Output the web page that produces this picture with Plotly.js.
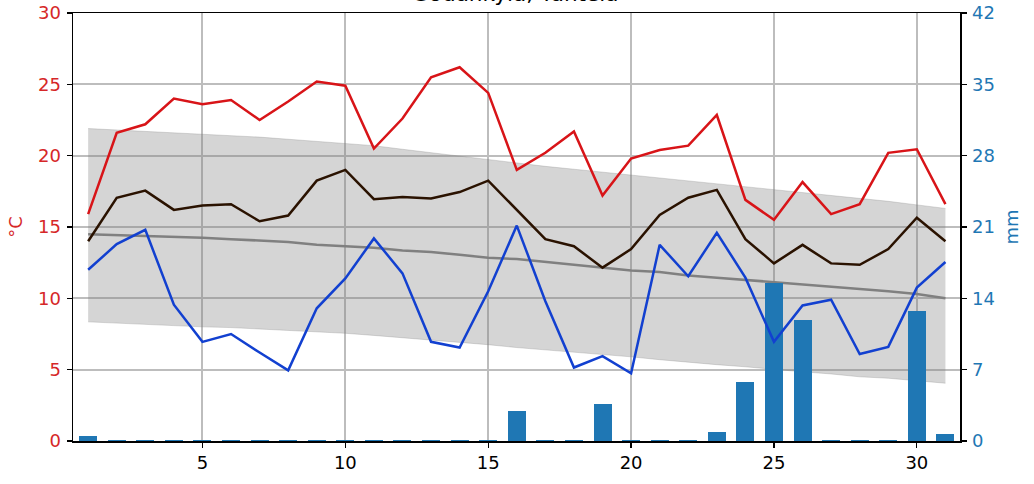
<!DOCTYPE html>
<html>
<head>
<meta charset="utf-8">
<script src="https://cdn.plot.ly/plotly-3.0.1.min.js"></script>
<style>html,body{margin:0;padding:0;background:#fff;}#chart{width:1034px;height:484px;}</style>
</head>
<body>
<div id="chart"></div>
<script>
const days = Array.from({length: 31}, (_, i) => i + 1);
const tMax = [15.9,21.6,22.2,24.0,23.6,23.9,22.5,23.8,25.2,24.9,20.5,22.6,25.5,26.2,24.4,19.0,20.2,21.7,17.2,19.8,20.4,20.7,22.85,16.9,15.5,18.15,15.9,16.6,20.2,20.45,16.6];
const tMean = [14.0,17.05,17.55,16.2,16.5,16.6,15.4,15.8,18.25,19.0,16.95,17.1,17.0,17.45,18.25,16.2,14.15,13.65,12.15,13.45,15.85,17.05,17.6,14.15,12.45,13.75,12.45,12.35,13.45,15.65,14.0];
const tMin = [12.0,13.8,14.8,9.55,6.95,7.5,6.2,4.95,9.3,11.4,14.2,11.75,6.95,6.55,10.5,15.1,9.8,5.15,5.95,4.75,13.75,11.55,14.6,11.45,6.95,9.5,9.9,6.1,6.6,10.75,12.55];
const normMean = [14.5,14.45,14.4,14.3,14.25,14.15,14.05,13.95,13.75,13.65,13.55,13.35,13.25,13.05,12.85,12.75,12.55,12.35,12.15,11.95,11.85,11.6,11.45,11.3,11.15,11.0,10.8,10.7,10.5,10.3,10.0];
const normHigh = [21.9,21.8,21.7,21.6,21.5,21.45,21.3,21.15,21.0,20.9,20.7,20.45,20.2,19.95,19.7,19.45,19.25,19.05,18.85,18.65,18.4,18.2,18.0,17.8,17.6,17.4,17.25,17.0,16.8,16.55,16.3];
const normLow = [8.35,8.25,8.2,8.1,8.0,7.95,7.85,7.8,7.65,7.55,7.4,7.25,7.1,6.9,6.75,6.55,6.4,6.25,6.05,5.9,5.7,5.5,5.35,5.2,5.0,4.85,4.7,4.5,4.4,4.25,4.05];
const precip = [0.45,0.1,0.1,0.1,0.1,0.1,0.1,0.1,0.1,0.1,0.1,0.1,0.1,0.1,0.1,2.9,0.1,0.1,3.6,0.1,0.1,0.1,0.9,5.8,15.5,11.9,0.1,0.1,0.1,12.75,0.65];
const xTicks = [5,10,15,20,25,30];
const tempTicks = [0,5,10,15,20,25,30];
const mmTicks = [0,7,14,21,28,35,42];
const titleText = 'Sodankylä, Tähtelä';

const FONT = 'DejaVu Sans, Liberation Sans, sans-serif';
const RED = '#d62728';
const BLUE_AX = '#1f77b4';
const GRID = '#bdbdbd';

const traces = [
  {x: days, y: normLow, type: 'scatter', mode: 'lines', line: {width: 0.8, color: 'rgba(128,128,128,0.35)'}, hoverinfo: 'skip', showlegend: false, yaxis: 'y'},
  {x: days, y: normHigh, type: 'scatter', mode: 'lines', fill: 'tonexty', fillcolor: 'rgba(128,128,128,0.33)', line: {width: 0.8, color: 'rgba(128,128,128,0.35)'}, hoverinfo: 'skip', showlegend: false, yaxis: 'y'},
  {x: days, y: normMean, type: 'scatter', mode: 'lines', line: {width: 2.5, color: '#808080'}, showlegend: false, yaxis: 'y'},
  {x: days, y: precip, type: 'bar', width: 0.63, marker: {color: '#1f77b4', line: {width: 0}}, showlegend: false, yaxis: 'y2'},
  {x: days, y: tMax, type: 'scatter', mode: 'lines', line: {width: 2.5, color: '#d81418'}, showlegend: false, yaxis: 'y3'},
  {x: days, y: tMean, type: 'scatter', mode: 'lines', line: {width: 2.5, color: '#2a1200'}, showlegend: false, yaxis: 'y3'},
  {x: days, y: tMin, type: 'scatter', mode: 'lines', line: {width: 2.5, color: '#1240d0'}, showlegend: false, yaxis: 'y3'}
];

const layout = {
  width: 1034, height: 484,
  margin: {l: 73, r: 74, t: 13, b: 43, pad: 0},
  paper_bgcolor: '#ffffff', plot_bgcolor: '#ffffff',
  font: {family: FONT, size: 18, color: '#000'},
  showlegend: false,
  bargap: 0,
  xaxis: {
    range: [0.47, 31.51], tickvals: xTicks, ticktext: xTicks.map(String),
    showgrid: true, gridcolor: GRID, gridwidth: 2,
    ticks: 'outside', ticklen: 5, tickwidth: 1.3, tickcolor: '#000',
    showline: true, linecolor: '#000', linewidth: 1.5, mirror: true,
    zeroline: false, tickfont: {size: 18, color: '#000', family: FONT}
  },
  yaxis: {
    range: [0, 30], tickvals: tempTicks, ticktext: tempTicks.map(String),
    showgrid: true, gridcolor: GRID, gridwidth: 2,
    ticks: 'outside', ticklen: 5, tickwidth: 1.3, tickcolor: '#000',
    showline: true, linecolor: '#000', linewidth: 1.5,
    zeroline: false, tickfont: {size: 18, color: RED, family: FONT},
    ticklabelstandoff: 2,
    title: {text: '°C', font: {size: 18, color: RED, family: FONT}, standoff: 10}
  },
  yaxis2: {
    overlaying: 'y', side: 'right',
    range: [0, 42], tickvals: mmTicks, ticktext: mmTicks.map(String),
    showgrid: false,
    ticks: 'outside', ticklen: 5, tickwidth: 1.3, tickcolor: '#000',
    showline: true, linecolor: '#000', linewidth: 1.5,
    zeroline: false, tickfont: {size: 18, color: BLUE_AX, family: FONT},
    ticklabelstandoff: 2,
    title: {text: 'mm', font: {size: 18, color: BLUE_AX, family: FONT}, standoff: 11}
  },
  yaxis3: {
    overlaying: 'y', range: [0, 30], visible: false, showgrid: false, zeroline: false
  },
  annotations: [{
    text: titleText, xref: 'paper', yref: 'paper', x: 0.5, y: 1,
    xanchor: 'center', yanchor: 'bottom', yshift: 4.5, showarrow: false,
    font: {size: 21.6, color: '#000', family: FONT}
  }]
};

Plotly.newPlot('chart', traces, layout, {displayModeBar: false, staticPlot: true});
</script>
</body>
</html>
